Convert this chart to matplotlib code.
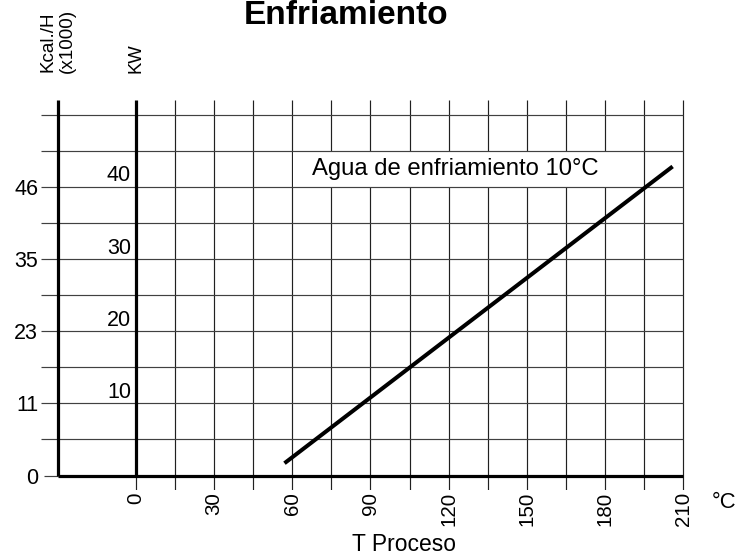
import matplotlib
matplotlib.use("Agg")
import matplotlib.pyplot as plt
from matplotlib.patches import Rectangle

plt.rcParams['font.family'] = ['Liberation Sans', 'DejaVu Sans']

# ---- data ----
temp_ticks = [0, 30, 60, 90, 120, 150, 180, 210]
temp_labels = ['0', '30', '60', '90', '120', '150', '180', '210']
kw_ticks = [10, 20, 30, 40]
kw_labels = ['10', '20', '30', '40']
kcal_ticks = [0, 10, 20, 30, 40]
kcal_labels = ['0', '11', '23', '35', '46']
line_temp = [57, 206]
line_kw = [1.7, 42.8]
line_label = 'Agua de enfriamiento 10°C'

# ---- layout (pixel mapping) ----
W, H = 744, 556
x0px, pxc = 136.0, 2.605
y0px, pxk = 475.5, 7.22
xlim = (-36.5, 215)
ylim = (-2, 53)
left_px = x0px + pxc * xlim[0]
right_px = x0px + pxc * xlim[1]
bot_px = y0px - pxk * ylim[0]
top_px = y0px - pxk * ylim[1]

fig = plt.figure(figsize=(W / 100, H / 100), dpi=100)
ax = fig.add_axes([left_px / W, (H - bot_px) / H,
                   (right_px - left_px) / W, (bot_px - top_px) / H])
ax.set_xlim(*xlim)
ax.set_ylim(*ylim)
for s in ax.spines.values():
    s.set_visible(False)

hcol = '#404040'
vcol = '#202020'
glw = 0.85
thick = 2.3

# horizontal grid (drawn above the label box)
for k in range(5, 55, 5):
    ax.hlines(k, -36.5, 210, color=hcol, lw=glw, zorder=2)
ax.hlines(0, -35.3, -30, color=hcol, lw=glw, zorder=2)
ax.hlines(0, -30, 210, color='black', lw=thick, zorder=3)
# vertical grid
for t in range(15, 225, 15):
    ax.vlines(t, -2.0, 52, color=vcol, lw=glw, zorder=1)
ax.vlines(0, -2.0, 0, color=vcol, lw=glw, zorder=1)
ax.vlines(0, 0, 52, color='black', lw=thick, zorder=3)
ax.vlines(-30, 0, 52, color='black', lw=thick, zorder=3)

# white box behind the curve label (vertical lines at 60 and 195 stay visible)
ax.add_patch(Rectangle((60.45, 40), 134.1, 5, facecolor='white',
                       edgecolor='none', zorder=1.5))

# data line
ax.plot(line_temp, line_kw, color='black', lw=2.9, solid_capstyle='butt', zorder=4)
ax.text(67.6, 41.6, line_label, fontsize=17.2, ha='left', va='baseline', zorder=5)

# ticks
ax.set_xticks(temp_ticks)
ax.set_xticklabels(temp_labels, rotation=90, fontsize=14.8, va='top')
ax.set_yticks(kcal_ticks)
ax.set_yticklabels(kcal_labels, fontsize=15.5)
ax.tick_params(axis='both', length=0)
ax.tick_params(axis='x', pad=1.5)
ax.tick_params(axis='y', pad=2)

# KW labels inside
for v, lab in zip(kw_ticks, kw_labels):
    ax.text(-1.9, v + 0.05, lab, fontsize=15.5, ha='right', va='bottom', zorder=5)

# headers
ax.text(-30, 55.7, 'Kcal./H\n(x1000)', rotation=90, fontsize=13.6,
        ha='center', va='bottom', linespacing=1.2, clip_on=False)
ax.text(0, 55.7, 'KW', rotation=90, fontsize=13.3, ha='center', va='bottom',
        clip_on=False)

fig.text(346 / W, 1 - 24 / H, 'Enfriamiento', fontsize=24, fontweight='bold',
         ha='center', va='baseline')
fig.text(404 / W, 1 - 551 / H, 'T Proceso', fontsize=16.5, ha='center', va='baseline')
fig.text(724 / W, 1 - 502.5 / H, '°C', fontsize=15.8, ha='center', va='center')

fig.savefig('out.png', dpi=100)
